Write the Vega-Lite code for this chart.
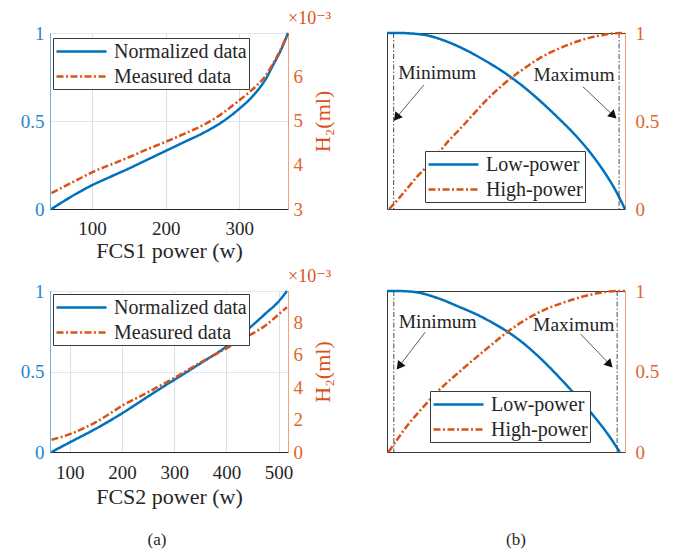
{
  "$schema": "https://vega.github.io/schema/vega-lite/v6.json",
  "background": "white",
  "padding": {"left": 19, "top": 9, "right": 5, "bottom": 5},
  "config": {
    "font": "Times New Roman, Liberation Serif, DejaVu Serif, serif",
    "view": {"stroke": "#3a3a3a", "strokeWidth": 1},
    "style": {
      "guide-label": {"font": "Times New Roman, Liberation Serif, DejaVu Serif, serif"},
      "guide-title": {"font": "Times New Roman, Liberation Serif, DejaVu Serif, serif"}
    },
    "axis": {
      "labelFont": "Times New Roman, Liberation Serif, DejaVu Serif, serif", "titleFont": "Times New Roman, Liberation Serif, DejaVu Serif, serif",
      "labelFontSize": 19, "titleFontSize": 22, "titleFontWeight": "normal",
      "ticks": false, "gridColor": "#dedede", "gridWidth": 1,
      "domainColor": "#262626", "labelColor": "#262626", "titleColor": "#262626"
    },
    "legend": {
      "labelFont": "Times New Roman, Liberation Serif, DejaVu Serif, serif", "labelFontSize": 20, "labelColor": "#262626",
      "symbolType": "M-1,0H4", "symbolStrokeWidth": 2.5, "symbolSize": 400,
      "strokeColor": "#3a3a3a", "fillColor": "white", "padding": 2, "rowPadding": 3, "labelOffset": 36
    },
    "line": {"strokeWidth": 2.5, "interpolate": "monotone"},
    "text": {"font": "Times New Roman, Liberation Serif, DejaVu Serif, serif"},
    "title": {"font": "Times New Roman, Liberation Serif, DejaVu Serif, serif"}
  },
  "datasets": {
    "curves": [
      {"panel": "a1", "series": "Normalized data", "power": 45, "value": 0},
      {"panel": "a1", "series": "Normalized data", "power": 60, "value": 0.04},
      {"panel": "a1", "series": "Normalized data", "power": 80, "value": 0.09},
      {"panel": "a1", "series": "Normalized data", "power": 100, "value": 0.135},
      {"panel": "a1", "series": "Normalized data", "power": 125, "value": 0.183},
      {"panel": "a1", "series": "Normalized data", "power": 150, "value": 0.23},
      {"panel": "a1", "series": "Normalized data", "power": 175, "value": 0.28},
      {"panel": "a1", "series": "Normalized data", "power": 200, "value": 0.33},
      {"panel": "a1", "series": "Normalized data", "power": 225, "value": 0.38},
      {"panel": "a1", "series": "Normalized data", "power": 250, "value": 0.43},
      {"panel": "a1", "series": "Normalized data", "power": 275, "value": 0.49},
      {"panel": "a1", "series": "Normalized data", "power": 300, "value": 0.57},
      {"panel": "a1", "series": "Normalized data", "power": 312, "value": 0.615},
      {"panel": "a1", "series": "Normalized data", "power": 324, "value": 0.67},
      {"panel": "a1", "series": "Normalized data", "power": 336, "value": 0.74},
      {"panel": "a1", "series": "Normalized data", "power": 346, "value": 0.82},
      {"panel": "a1", "series": "Normalized data", "power": 356, "value": 0.9},
      {"panel": "a1", "series": "Normalized data", "power": 366, "value": 1.0},
      {"panel": "a1", "series": "Measured data", "power": 45, "value": 0.00336},
      {"panel": "a1", "series": "Measured data", "power": 60, "value": 0.00349},
      {"panel": "a1", "series": "Measured data", "power": 80, "value": 0.00366},
      {"panel": "a1", "series": "Measured data", "power": 100, "value": 0.00383},
      {"panel": "a1", "series": "Measured data", "power": 125, "value": 0.004},
      {"panel": "a1", "series": "Measured data", "power": 150, "value": 0.00417},
      {"panel": "a1", "series": "Measured data", "power": 175, "value": 0.00435},
      {"panel": "a1", "series": "Measured data", "power": 200, "value": 0.00452},
      {"panel": "a1", "series": "Measured data", "power": 225, "value": 0.0047},
      {"panel": "a1", "series": "Measured data", "power": 250, "value": 0.00489},
      {"panel": "a1", "series": "Measured data", "power": 275, "value": 0.00514},
      {"panel": "a1", "series": "Measured data", "power": 300, "value": 0.00546},
      {"panel": "a1", "series": "Measured data", "power": 312, "value": 0.00562},
      {"panel": "a1", "series": "Measured data", "power": 324, "value": 0.0058},
      {"panel": "a1", "series": "Measured data", "power": 336, "value": 0.00602},
      {"panel": "a1", "series": "Measured data", "power": 346, "value": 0.0063},
      {"panel": "a1", "series": "Measured data", "power": 356, "value": 0.0066},
      {"panel": "a1", "series": "Measured data", "power": 366, "value": 0.00698},

      {"panel": "a2", "series": "Normalized data", "power": 65, "value": 0},
      {"panel": "a2", "series": "Normalized data", "power": 100, "value": 0.06},
      {"panel": "a2", "series": "Normalized data", "power": 150, "value": 0.145},
      {"panel": "a2", "series": "Normalized data", "power": 200, "value": 0.24},
      {"panel": "a2", "series": "Normalized data", "power": 250, "value": 0.345},
      {"panel": "a2", "series": "Normalized data", "power": 291, "value": 0.43},
      {"panel": "a2", "series": "Normalized data", "power": 301, "value": 0.45},
      {"panel": "a2", "series": "Normalized data", "power": 350, "value": 0.55},
      {"panel": "a2", "series": "Normalized data", "power": 400, "value": 0.655},
      {"panel": "a2", "series": "Normalized data", "power": 444, "value": 0.77},
      {"panel": "a2", "series": "Normalized data", "power": 475, "value": 0.86},
      {"panel": "a2", "series": "Normalized data", "power": 500, "value": 0.935},
      {"panel": "a2", "series": "Normalized data", "power": 516, "value": 1.0},
      {"panel": "a2", "series": "Measured data", "power": 65, "value": 0.00076},
      {"panel": "a2", "series": "Measured data", "power": 100, "value": 0.0011},
      {"panel": "a2", "series": "Measured data", "power": 150, "value": 0.00185},
      {"panel": "a2", "series": "Measured data", "power": 200, "value": 0.00285},
      {"panel": "a2", "series": "Measured data", "power": 250, "value": 0.0037},
      {"panel": "a2", "series": "Measured data", "power": 301, "value": 0.0046},
      {"panel": "a2", "series": "Measured data", "power": 349, "value": 0.0055},
      {"panel": "a2", "series": "Measured data", "power": 400, "value": 0.0064},
      {"panel": "a2", "series": "Measured data", "power": 444, "value": 0.0072},
      {"panel": "a2", "series": "Measured data", "power": 476, "value": 0.00785},
      {"panel": "a2", "series": "Measured data", "power": 500, "value": 0.0085},
      {"panel": "a2", "series": "Measured data", "power": 516, "value": 0.00895},

      {"panel": "b1", "series": "Low-power", "power": 44, "value": 1},
      {"panel": "b1", "series": "Low-power", "power": 60, "value": 1.0},
      {"panel": "b1", "series": "Low-power", "power": 83, "value": 0.995},
      {"panel": "b1", "series": "Low-power", "power": 100, "value": 0.985},
      {"panel": "b1", "series": "Low-power", "power": 114, "value": 0.968},
      {"panel": "b1", "series": "Low-power", "power": 130, "value": 0.943},
      {"panel": "b1", "series": "Low-power", "power": 159, "value": 0.885},
      {"panel": "b1", "series": "Low-power", "power": 180, "value": 0.835},
      {"panel": "b1", "series": "Low-power", "power": 202, "value": 0.777},
      {"panel": "b1", "series": "Low-power", "power": 225, "value": 0.707},
      {"panel": "b1", "series": "Low-power", "power": 249, "value": 0.622},
      {"panel": "b1", "series": "Low-power", "power": 275, "value": 0.52},
      {"panel": "b1", "series": "Low-power", "power": 300, "value": 0.414},
      {"panel": "b1", "series": "Low-power", "power": 320, "value": 0.315},
      {"panel": "b1", "series": "Low-power", "power": 338, "value": 0.21},
      {"panel": "b1", "series": "Low-power", "power": 352, "value": 0.115},
      {"panel": "b1", "series": "Low-power", "power": 366, "value": 0},
      {"panel": "b1", "series": "High-power", "power": 47, "value": 0},
      {"panel": "b1", "series": "High-power", "power": 60, "value": 0.06},
      {"panel": "b1", "series": "High-power", "power": 70, "value": 0.11},
      {"panel": "b1", "series": "High-power", "power": 85, "value": 0.185},
      {"panel": "b1", "series": "High-power", "power": 100, "value": 0.25},
      {"panel": "b1", "series": "High-power", "power": 114, "value": 0.32},
      {"panel": "b1", "series": "High-power", "power": 128, "value": 0.39},
      {"panel": "b1", "series": "High-power", "power": 145, "value": 0.465},
      {"panel": "b1", "series": "High-power", "power": 159, "value": 0.53},
      {"panel": "b1", "series": "High-power", "power": 180, "value": 0.625},
      {"panel": "b1", "series": "High-power", "power": 202, "value": 0.71},
      {"panel": "b1", "series": "High-power", "power": 225, "value": 0.785},
      {"panel": "b1", "series": "High-power", "power": 249, "value": 0.853},
      {"panel": "b1", "series": "High-power", "power": 275, "value": 0.908},
      {"panel": "b1", "series": "High-power", "power": 300, "value": 0.95},
      {"panel": "b1", "series": "High-power", "power": 320, "value": 0.975},
      {"panel": "b1", "series": "High-power", "power": 338, "value": 0.99},
      {"panel": "b1", "series": "High-power", "power": 352, "value": 0.998},
      {"panel": "b1", "series": "High-power", "power": 366, "value": 1},

      {"panel": "b2", "series": "Low-power", "power": 61, "value": 1},
      {"panel": "b2", "series": "Low-power", "power": 80, "value": 1.0},
      {"panel": "b2", "series": "Low-power", "power": 111, "value": 0.995},
      {"panel": "b2", "series": "Low-power", "power": 156, "value": 0.958},
      {"panel": "b2", "series": "Low-power", "power": 200, "value": 0.9},
      {"panel": "b2", "series": "Low-power", "power": 230, "value": 0.858},
      {"panel": "b2", "series": "Low-power", "power": 253, "value": 0.82},
      {"panel": "b2", "series": "Low-power", "power": 275, "value": 0.78},
      {"panel": "b2", "series": "Low-power", "power": 291, "value": 0.748},
      {"panel": "b2", "series": "Low-power", "power": 320, "value": 0.68},
      {"panel": "b2", "series": "Low-power", "power": 350, "value": 0.595},
      {"panel": "b2", "series": "Low-power", "power": 400, "value": 0.43},
      {"panel": "b2", "series": "Low-power", "power": 452, "value": 0.24},
      {"panel": "b2", "series": "Low-power", "power": 480, "value": 0.125},
      {"panel": "b2", "series": "Low-power", "power": 506, "value": 0},
      {"panel": "b2", "series": "High-power", "power": 64, "value": 0},
      {"panel": "b2", "series": "High-power", "power": 80, "value": 0.075},
      {"panel": "b2", "series": "High-power", "power": 100, "value": 0.165},
      {"panel": "b2", "series": "High-power", "power": 125, "value": 0.26},
      {"panel": "b2", "series": "High-power", "power": 156, "value": 0.37},
      {"panel": "b2", "series": "High-power", "power": 200, "value": 0.5},
      {"panel": "b2", "series": "High-power", "power": 253, "value": 0.645},
      {"panel": "b2", "series": "High-power", "power": 291, "value": 0.745},
      {"panel": "b2", "series": "High-power", "power": 320, "value": 0.81},
      {"panel": "b2", "series": "High-power", "power": 350, "value": 0.865},
      {"panel": "b2", "series": "High-power", "power": 400, "value": 0.93},
      {"panel": "b2", "series": "High-power", "power": 452, "value": 0.978},
      {"panel": "b2", "series": "High-power", "power": 503, "value": 1},
      {"panel": "b2", "series": "High-power", "power": 516, "value": 1}
    ],
    "limits": [
      {"panel": "b1", "power": 53},
      {"panel": "b1", "power": 358},
      {"panel": "b2", "power": 74},
      {"panel": "b2", "power": 501}
    ],
    "notes": [
      {"panel": "b1", "label": "Minimum", "power": 112, "value": 0.77, "tail_power": 94, "tail_value": 0.705, "head_power": 58, "head_value": 0.526},
      {"panel": "b1", "label": "Maximum", "power": 297, "value": 0.76, "tail_power": 309, "tail_value": 0.695, "head_power": 349, "head_value": 0.536},
      {"panel": "b2", "label": "Minimum", "power": 158, "value": 0.81, "tail_power": 134, "tail_value": 0.744, "head_power": 86, "head_value": 0.54},
      {"panel": "b2", "label": "Maximum", "power": 418, "value": 0.79, "tail_power": 431, "tail_value": 0.733, "head_power": 485, "head_value": 0.55}
    ]
  },
  "columns": 2,
  "bounds": "flush",
  "align": "each",
  "spacing": {"row": 82, "column": 99},
  "resolve": {
    "scale": {"color": "independent", "strokeDash": "independent"},
    "legend": {"color": "independent", "strokeDash": "independent"}
  },
  "concat": [
    {
      "width": 238, "height": 176,
      "title": {"text": "×10⁻³", "anchor": "end", "align": "left", "frame": "group", "fontSize": 18, "fontWeight": "normal", "color": "#D95319", "offset": 0, "dy": 4, "font": "Times New Roman, Liberation Serif, DejaVu Serif, serif"},
      "data": {"name": "curves"},
      "layer": [
        {
          "transform": [{"filter": "datum.panel === 'a1' && datum.series === 'Normalized data'"}],
          "mark": "line",
          "encoding": {
            "x": {"field": "power", "type": "quantitative", "scale": {"domain": [43, 366], "nice": false},
                  "axis": {"values": [100, 200, 300], "title": "FCS1 power (w)", "grid": true, "labelPadding": 10, "titlePadding": 2, "labelFont": "Times New Roman, Liberation Serif, DejaVu Serif, serif"}},
            "y": {"field": "value", "type": "quantitative", "scale": {"domain": [0, 1], "nice": false},
                  "axis": {"orient": "left", "values": [0, 0.5, 1], "format": "~g", "title": null, "grid": true, "gridColor": "#dbe8f4", "labelColor": "#2a86cc", "domainColor": "#6ab0e2", "labelPadding": 6, "labelFont": "Times New Roman, Liberation Serif, DejaVu Serif, serif"}},
            "color": {"field": "series", "type": "nominal", "scale": {"domain": ["Normalized data", "Measured data"], "range": ["#0072BD", "#D95319"]},
                      "legend": {"title": null, "orient": "none", "legendX": 3, "legendY": 5}},
            "strokeDash": {"field": "series", "type": "nominal", "scale": {"domain": ["Normalized data", "Measured data"], "range": [[1, 0], [7, 2.5, 2, 2.5]]},
                           "legend": {"title": null, "orient": "none", "legendX": 3, "legendY": 5}}
          }
        },
        {
          "transform": [{"filter": "datum.panel === 'a1' && datum.series === 'Measured data'"}],
          "mark": "line",
          "encoding": {
            "x": {"field": "power", "type": "quantitative", "scale": {"domain": [43, 366], "nice": false}},
            "y": {"field": "value", "type": "quantitative", "scale": {"domain": [0.003, 0.00698], "nice": false, "zero": false},
                  "axis": {"orient": "right", "values": [0.003, 0.004, 0.005, 0.006], "labelExpr": "format(datum.value * 1000, 'd')", "title": "H₂(ml)", "titleAngle": 270, "titleBaseline": "top", "titlePadding": 10, "titleColor": "#D95319", "labelColor": "#e0652d", "domainColor": "#f0a27e", "grid": false, "labelPadding": 5, "labelFont": "Times New Roman, Liberation Serif, DejaVu Serif, serif"}},
            "color": {"field": "series", "type": "nominal", "legend": {"title": null, "orient": "none", "legendX": 3, "legendY": 5}},
            "strokeDash": {"field": "series", "type": "nominal", "legend": {"title": null, "orient": "none", "legendX": 3, "legendY": 5}}
          }
        }
      ],
      "resolve": {"scale": {"y": "independent"}}
    },
    {
      "width": 238, "height": 176,
      "layer": [
        {
          "layer": [
            {
              "data": {"name": "curves"},
              "transform": [{"filter": "datum.panel === 'b1' && datum.series === 'Low-power'"}],
              "mark": "line",
              "encoding": {
                "x": {"field": "power", "type": "quantitative", "scale": {"domain": [44, 366], "nice": false},
                      "axis": {"values": [100, 200, 300], "title": "FCS1 power (w)", "grid": true, "labelPadding": 10, "titlePadding": 2, "labelFont": "Times New Roman, Liberation Serif, DejaVu Serif, serif"}},
                "y": {"field": "value", "type": "quantitative", "scale": {"domain": [0, 1], "nice": false},
                      "axis": {"orient": "left", "values": [0, 0.5, 1], "format": "~g", "title": null, "grid": true, "gridColor": "#dbe8f4", "labelColor": "#2a86cc", "domainColor": "#6ab0e2", "labelPadding": 14, "labelFont": "Times New Roman, Liberation Serif, DejaVu Serif, serif"}},
                "color": {"field": "series", "type": "nominal", "scale": {"domain": ["Low-power", "High-power"], "range": ["#0072BD", "#D95319"]},
                          "legend": {"title": null, "orient": "none", "legendX": 38, "legendY": 118}},
                "strokeDash": {"field": "series", "type": "nominal", "scale": {"domain": ["Low-power", "High-power"], "range": [[1, 0], [7, 2.5, 2, 2.5]]},
                               "legend": {"title": null, "orient": "none", "legendX": 38, "legendY": 118}}
              }
            },
            {
              "data": {"name": "limits"},
              "transform": [{"filter": "datum.panel === 'b1'"}],
              "mark": {"type": "rule", "color": "#3a3a3a", "strokeWidth": 0.9, "strokeDash": [5, 2, 1.5, 2]},
              "encoding": {"x": {"field": "power", "type": "quantitative", "axis": null}}
            },
            {
              "data": {"name": "notes"},
              "transform": [{"filter": "datum.panel === 'b1'"}],
              "mark": {"type": "text", "fontSize": 19.5, "color": "#262626", "font": "Times New Roman, Liberation Serif, DejaVu Serif, serif"},
              "encoding": {
                "x": {"field": "power", "type": "quantitative", "axis": null},
                "y": {"field": "value", "type": "quantitative", "axis": null},
                "text": {"field": "label"}
              }
            },
            {
              "data": {"name": "notes"},
              "transform": [{"filter": "datum.panel === 'b1'"}],
              "mark": {"type": "rule", "color": "#333333", "strokeWidth": 0.8},
              "encoding": {
                "x": {"field": "tail_power", "type": "quantitative", "axis": null},
                "y": {"field": "tail_value", "type": "quantitative", "axis": null},
                "x2": {"field": "head_power"},
                "y2": {"field": "head_value"}
              }
            },
            {
              "data": {"name": "notes"},
              "transform": [{"filter": "datum.panel === 'b1'"}],
              "mark": {"type": "point", "shape": "triangle", "filled": true, "color": "#111111", "size": 90, "opacity": 1},
              "encoding": {
                "x": {"field": "head_power", "type": "quantitative", "axis": null},
                "y": {"field": "head_value", "type": "quantitative", "axis": null},
                "angle": {"condition": {"test": "datum.label === 'Minimum'", "value": 219}, "value": 134}
              }
            }
          ]
        },
        {
          "data": {"name": "curves"},
          "transform": [{"filter": "datum.panel === 'b1' && datum.series === 'High-power'"}],
          "mark": "line",
          "encoding": {
            "x": {"field": "power", "type": "quantitative", "scale": {"domain": [44, 366], "nice": false}},
            "y": {"field": "value", "type": "quantitative", "scale": {"domain": [0, 1], "nice": false},
                  "axis": {"orient": "right", "values": [0, 0.5, 1], "format": "~g", "title": null, "grid": false, "labelColor": "#e0652d", "domainColor": "#f0a27e", "labelPadding": 10, "labelFont": "Times New Roman, Liberation Serif, DejaVu Serif, serif"}},
            "color": {"field": "series", "type": "nominal", "legend": {"title": null, "orient": "none", "legendX": 38, "legendY": 118}},
            "strokeDash": {"field": "series", "type": "nominal", "legend": {"title": null, "orient": "none", "legendX": 38, "legendY": 118}}
          }
        }
      ],
      "resolve": {"scale": {"y": "independent"}}
    },
    {
      "width": 238, "height": 161,
      "title": {"text": "×10⁻³", "anchor": "end", "align": "left", "frame": "group", "fontSize": 18, "fontWeight": "normal", "color": "#D95319", "offset": 0, "dy": 4, "font": "Times New Roman, Liberation Serif, DejaVu Serif, serif"},
      "data": {"name": "curves"},
      "layer": [
        {
          "transform": [{"filter": "datum.panel === 'a2' && datum.series === 'Normalized data'"}],
          "mark": "line",
          "encoding": {
            "x": {"field": "power", "type": "quantitative", "scale": {"domain": [62, 518], "nice": false},
                  "axis": {"values": [100, 200, 300, 400, 500], "title": "FCS2 power (w)", "grid": true, "labelPadding": 11, "titlePadding": 4, "labelFont": "Times New Roman, Liberation Serif, DejaVu Serif, serif"}},
            "y": {"field": "value", "type": "quantitative", "scale": {"domain": [0, 1], "nice": false},
                  "axis": {"orient": "left", "values": [0, 0.5, 1], "format": "~g", "title": null, "grid": true, "gridColor": "#dbe8f4", "labelColor": "#2a86cc", "domainColor": "#6ab0e2", "labelPadding": 6, "labelFont": "Times New Roman, Liberation Serif, DejaVu Serif, serif"}},
            "color": {"field": "series", "type": "nominal", "scale": {"domain": ["Normalized data", "Measured data"], "range": ["#0072BD", "#D95319"]},
                      "legend": {"title": null, "orient": "none", "legendX": 3, "legendY": 3}},
            "strokeDash": {"field": "series", "type": "nominal", "scale": {"domain": ["Normalized data", "Measured data"], "range": [[1, 0], [7, 2.5, 2, 2.5]]},
                           "legend": {"title": null, "orient": "none", "legendX": 3, "legendY": 3}}
          }
        },
        {
          "transform": [{"filter": "datum.panel === 'a2' && datum.series === 'Measured data'"}],
          "mark": "line",
          "encoding": {
            "x": {"field": "power", "type": "quantitative", "scale": {"domain": [62, 518], "nice": false}},
            "y": {"field": "value", "type": "quantitative", "scale": {"domain": [0, 0.00995], "nice": false},
                  "axis": {"orient": "right", "values": [0, 0.002, 0.004, 0.006, 0.008], "labelExpr": "format(datum.value * 1000, 'd')", "title": "H₂(ml)", "titleAngle": 270, "titleBaseline": "top", "titlePadding": 10, "titleColor": "#D95319", "labelColor": "#e0652d", "domainColor": "#f0a27e", "grid": false, "labelPadding": 5, "labelFont": "Times New Roman, Liberation Serif, DejaVu Serif, serif"}},
            "color": {"field": "series", "type": "nominal", "legend": {"title": null, "orient": "none", "legendX": 3, "legendY": 3}},
            "strokeDash": {"field": "series", "type": "nominal", "legend": {"title": null, "orient": "none", "legendX": 3, "legendY": 3}}
          }
        }
      ],
      "resolve": {"scale": {"y": "independent"}}
    },
    {
      "width": 238, "height": 161,
      "layer": [
        {
          "layer": [
            {
              "data": {"name": "curves"},
              "transform": [{"filter": "datum.panel === 'b2' && datum.series === 'Low-power'"}],
              "mark": "line",
              "encoding": {
                "x": {"field": "power", "type": "quantitative", "scale": {"domain": [61, 516], "nice": false},
                      "axis": {"values": [100, 200, 300, 400, 500], "title": "FCS2 power (w)", "grid": true, "labelPadding": 11, "titlePadding": 4, "labelFont": "Times New Roman, Liberation Serif, DejaVu Serif, serif"}},
                "y": {"field": "value", "type": "quantitative", "scale": {"domain": [0, 1], "nice": false},
                      "axis": {"orient": "left", "values": [0, 0.5, 1], "format": "~g", "title": null, "grid": true, "gridColor": "#dbe8f4", "labelColor": "#2a86cc", "domainColor": "#6ab0e2", "labelPadding": 14, "labelFont": "Times New Roman, Liberation Serif, DejaVu Serif, serif"}},
                "color": {"field": "series", "type": "nominal", "scale": {"domain": ["Low-power", "High-power"], "range": ["#0072BD", "#D95319"]},
                          "legend": {"title": null, "orient": "none", "legendX": 43, "legendY": 100}},
                "strokeDash": {"field": "series", "type": "nominal", "scale": {"domain": ["Low-power", "High-power"], "range": [[1, 0], [7, 2.5, 2, 2.5]]},
                               "legend": {"title": null, "orient": "none", "legendX": 43, "legendY": 100}}
              }
            },
            {
              "data": {"name": "limits"},
              "transform": [{"filter": "datum.panel === 'b2'"}],
              "mark": {"type": "rule", "color": "#3a3a3a", "strokeWidth": 0.9, "strokeDash": [5, 2, 1.5, 2]},
              "encoding": {"x": {"field": "power", "type": "quantitative", "axis": null}}
            },
            {
              "data": {"name": "notes"},
              "transform": [{"filter": "datum.panel === 'b2'"}],
              "mark": {"type": "text", "fontSize": 19.5, "color": "#262626", "font": "Times New Roman, Liberation Serif, DejaVu Serif, serif"},
              "encoding": {
                "x": {"field": "power", "type": "quantitative", "axis": null},
                "y": {"field": "value", "type": "quantitative", "axis": null},
                "text": {"field": "label"}
              }
            },
            {
              "data": {"name": "notes"},
              "transform": [{"filter": "datum.panel === 'b2'"}],
              "mark": {"type": "rule", "color": "#333333", "strokeWidth": 0.8},
              "encoding": {
                "x": {"field": "tail_power", "type": "quantitative", "axis": null},
                "y": {"field": "tail_value", "type": "quantitative", "axis": null},
                "x2": {"field": "head_power"},
                "y2": {"field": "head_value"}
              }
            },
            {
              "data": {"name": "notes"},
              "transform": [{"filter": "datum.panel === 'b2'"}],
              "mark": {"type": "point", "shape": "triangle", "filled": true, "color": "#111111", "size": 90, "opacity": 1},
              "encoding": {
                "x": {"field": "head_power", "type": "quantitative", "axis": null},
                "y": {"field": "head_value", "type": "quantitative", "axis": null},
                "angle": {"condition": {"test": "datum.label === 'Minimum'", "value": 218}, "value": 136}
              }
            }
          ]
        },
        {
          "data": {"name": "curves"},
          "transform": [{"filter": "datum.panel === 'b2' && datum.series === 'High-power'"}],
          "mark": "line",
          "encoding": {
            "x": {"field": "power", "type": "quantitative", "scale": {"domain": [61, 516], "nice": false}},
            "y": {"field": "value", "type": "quantitative", "scale": {"domain": [0, 1], "nice": false},
                  "axis": {"orient": "right", "values": [0, 0.5, 1], "format": "~g", "title": null, "grid": false, "labelColor": "#e0652d", "domainColor": "#f0a27e", "labelPadding": 10, "labelFont": "Times New Roman, Liberation Serif, DejaVu Serif, serif"}},
            "color": {"field": "series", "type": "nominal", "legend": {"title": null, "orient": "none", "legendX": 43, "legendY": 100}},
            "strokeDash": {"field": "series", "type": "nominal", "legend": {"title": null, "orient": "none", "legendX": 43, "legendY": 100}}
          }
        }
      ],
      "resolve": {"scale": {"y": "independent"}}
    },
    {
      "width": 238, "height": 12,
      "view": {"stroke": null},
      "data": {"values": [{"tag": "(a)"}]},
      "mark": {"type": "text", "fontSize": 17, "color": "#262626", "dx": -12, "font": "Times New Roman, Liberation Serif, DejaVu Serif, serif"},
      "encoding": {"text": {"field": "tag"}}
    },
    {
      "width": 238, "height": 12,
      "view": {"stroke": null},
      "data": {"values": [{"tag": "(b)"}]},
      "mark": {"type": "text", "fontSize": 17, "color": "#262626", "dx": 10, "font": "Times New Roman, Liberation Serif, DejaVu Serif, serif"},
      "encoding": {"text": {"field": "tag"}}
    }
  ]
}
